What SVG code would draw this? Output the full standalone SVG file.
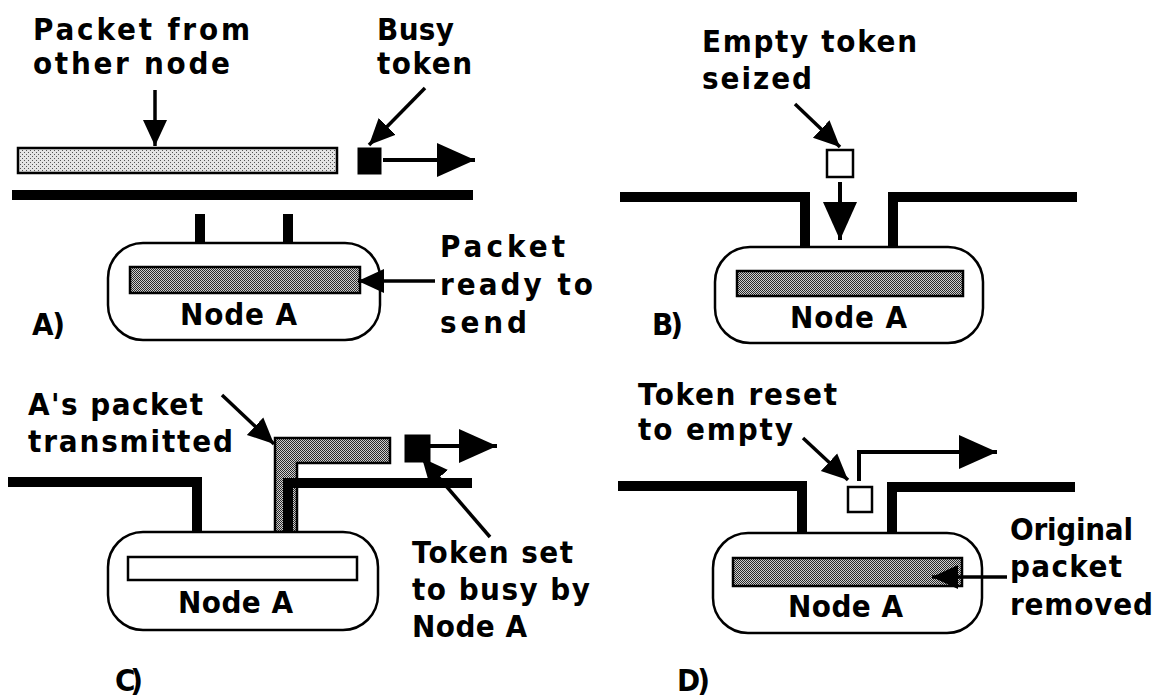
<svg xmlns="http://www.w3.org/2000/svg" width="1170" height="700" viewBox="0 0 1170 700">
<defs>
<style>
text{font-family:"DejaVu Sans Condensed","DejaVu Sans","Liberation Sans",sans-serif;font-weight:bold;font-size:31px;fill:#000}
.ring{fill:none;stroke:#000;stroke-width:10;stroke-linejoin:miter}
.node{fill:#fff;stroke:#000;stroke-width:2.5}
.pk-light{fill:url(#lt);stroke:#000;stroke-width:2.5}
.pk-dark{fill:url(#dk);stroke:#000;stroke-width:2.5}
.ptr{fill:none;stroke:#000;stroke-width:3.5;marker-end:url(#sm)}
.flow{fill:none;stroke:#000;stroke-width:4;marker-end:url(#big)}
.tok-busy{fill:#000;stroke:#000;stroke-width:1}
.tok-empty{fill:#fff;stroke:#000;stroke-width:2.5}
</style>
<pattern id="lt" width="4" height="4" patternUnits="userSpaceOnUse">
<rect width="4" height="4" fill="#e4e4e4"/>
<rect x="0" y="0" width="1" height="1" fill="#555"/>
<rect x="2" y="2" width="1" height="1" fill="#555"/>
</pattern>
<pattern id="dk" width="2" height="2" patternUnits="userSpaceOnUse">
<rect width="2" height="2" fill="#d0d0d0"/>
<rect x="0" y="0" width="1" height="1" fill="#2a2a2a"/>
<rect x="1" y="1" width="1" height="1" fill="#2a2a2a"/>
</pattern>
<marker id="big" markerUnits="userSpaceOnUse" markerWidth="40" markerHeight="40" viewBox="0 0 40 40" refX="38" refY="20" orient="auto">
<path d="M0,3 L38,20 L0,37 Z" fill="#000"/>
</marker>
<marker id="sm" markerUnits="userSpaceOnUse" markerWidth="28" markerHeight="28" viewBox="0 0 28 28" refX="26" refY="14" orient="auto">
<path d="M0,2 L26,14 L0,26 Z" fill="#000"/>
</marker>
</defs>

<!-- Panel A -->
<g id="ring-a">
<path class="ring" d="M12 195 H473"/>
<rect x="195" y="214" width="10" height="31" fill="#000"/>
<rect x="283" y="214" width="10" height="31" fill="#000"/>
</g>
<g id="packet-other">
<rect class="pk-light" x="18" y="148" width="319" height="25"/>
</g>
<g id="token-a">
<rect class="tok-busy" x="358" y="148" width="23" height="26"/>
</g>
<g id="node-a">
<rect class="node" x="108" y="243" width="272" height="97" rx="35"/>
<rect class="pk-dark" x="130" y="267" width="230" height="26"/>
<text x="180" y="325" textLength="117" lengthAdjust="spacing">Node A</text>
</g>
<g id="labels-a">
<text x="33" y="40" textLength="217" lengthAdjust="spacing">Packet from</text>
<text x="33" y="74" textLength="197" lengthAdjust="spacing">other node</text>
<text x="377" y="40" textLength="77" lengthAdjust="spacing">Busy</text>
<text x="377" y="74" textLength="95" lengthAdjust="spacing">token</text>
<text x="440" y="257" textLength="125" lengthAdjust="spacing">Packet</text>
<text x="440" y="295" textLength="153" lengthAdjust="spacing">ready to</text>
<text x="440" y="333" textLength="87" lengthAdjust="spacing">send</text>
<text x="32" y="335" textLength="33" lengthAdjust="spacing">A)</text>
</g>

<!-- Panel B -->
<g id="ring-b">
<path class="ring" d="M620 197 H805 V247"/>
<path class="ring" d="M893 247 V197 H1077"/>
</g>
<g id="token-b">
<rect class="tok-empty" x="827" y="150" width="26" height="27"/>
</g>
<g id="node-b">
<rect class="node" x="715" y="247" width="268" height="96" rx="35"/>
<rect class="pk-dark" x="737" y="271" width="226" height="25"/>
<text x="790" y="328" textLength="117" lengthAdjust="spacing">Node A</text>
</g>
<g id="labels-b">
<text x="702" y="52" textLength="215" lengthAdjust="spacing">Empty token</text>
<text x="702" y="89" textLength="110" lengthAdjust="spacing">seized</text>
<text x="652" y="335" textLength="31" lengthAdjust="spacing">B)</text>
</g>

<!-- Panel C -->
<g id="packet-a-sent">
<path class="pk-dark" d="M275 532 V438 H390 V463 H297 V532 Z"/>
</g>
<g id="ring-c">
<path class="ring" d="M8 482 H197 V532"/>
<path class="ring" d="M288 532 V483 H472"/>
</g>
<g id="token-c">
<rect class="tok-busy" x="405" y="435" width="25" height="27"/>
</g>
<g id="node-c">
<rect class="node" x="108" y="532" width="270" height="98" rx="35"/>
<rect x="128" y="557" width="229" height="23" fill="#fff" stroke="#000" stroke-width="2.5"/>
<text x="178" y="613" textLength="115" lengthAdjust="spacing">Node A</text>
</g>
<g id="labels-c">
<text x="28" y="415" textLength="175" lengthAdjust="spacing">A's packet</text>
<text x="28" y="452" textLength="205" lengthAdjust="spacing">transmitted</text>
<text x="412" y="563" textLength="161" lengthAdjust="spacing">Token set</text>
<text x="412" y="600" textLength="178" lengthAdjust="spacing">to busy by</text>
<text x="412" y="637" textLength="115" lengthAdjust="spacing">Node A</text>
<text x="115" y="691" textLength="28" lengthAdjust="spacing">C)</text>
</g>

<!-- Panel D -->
<g id="ring-d">
<path class="ring" d="M618 486 H802 V533"/>
<path class="ring" d="M892 533 V487 H1075"/>
</g>
<g id="token-d">
<rect class="tok-empty" x="848" y="487" width="24" height="25"/>
</g>
<g id="node-d">
<rect class="node" x="713" y="533" width="269" height="100" rx="35"/>
<rect class="pk-dark" x="733" y="558" width="229" height="28"/>
<text x="788" y="617" textLength="115" lengthAdjust="spacing">Node A</text>
</g>
<g id="labels-d">
<text x="638" y="405" textLength="199" lengthAdjust="spacing">Token reset</text>
<text x="638" y="440" textLength="155" lengthAdjust="spacing">to empty</text>
<text x="1010" y="540" textLength="123" lengthAdjust="spacing">Original</text>
<text x="1010" y="577" textLength="112" lengthAdjust="spacing">packet</text>
<text x="1010" y="615" textLength="143" lengthAdjust="spacing">removed</text>
<text x="677" y="691" textLength="33" lengthAdjust="spacing">D)</text>
</g>

<g id="connectors">
<path class="ptr" d="M155 90 V146"/>
<path class="ptr" d="M425 88 L369 145"/>
<path class="flow" d="M383 160 H475"/>
<path class="ptr" d="M435 281 H358"/>
<path class="ptr" d="M795 104 L840 147"/>
<path class="flow" d="M840 182 V240"/>
<path class="ptr" d="M222 395 L274 444"/>
<path class="flow" d="M430 446 H497"/>
<path class="ptr" d="M490 537 L422 458"/>
<path class="ptr" d="M803 438 L848 480"/>
<path class="flow" d="M859 481 V452 H997"/>
<path class="ptr" d="M1007 577 H932"/>
</g>
</svg>
